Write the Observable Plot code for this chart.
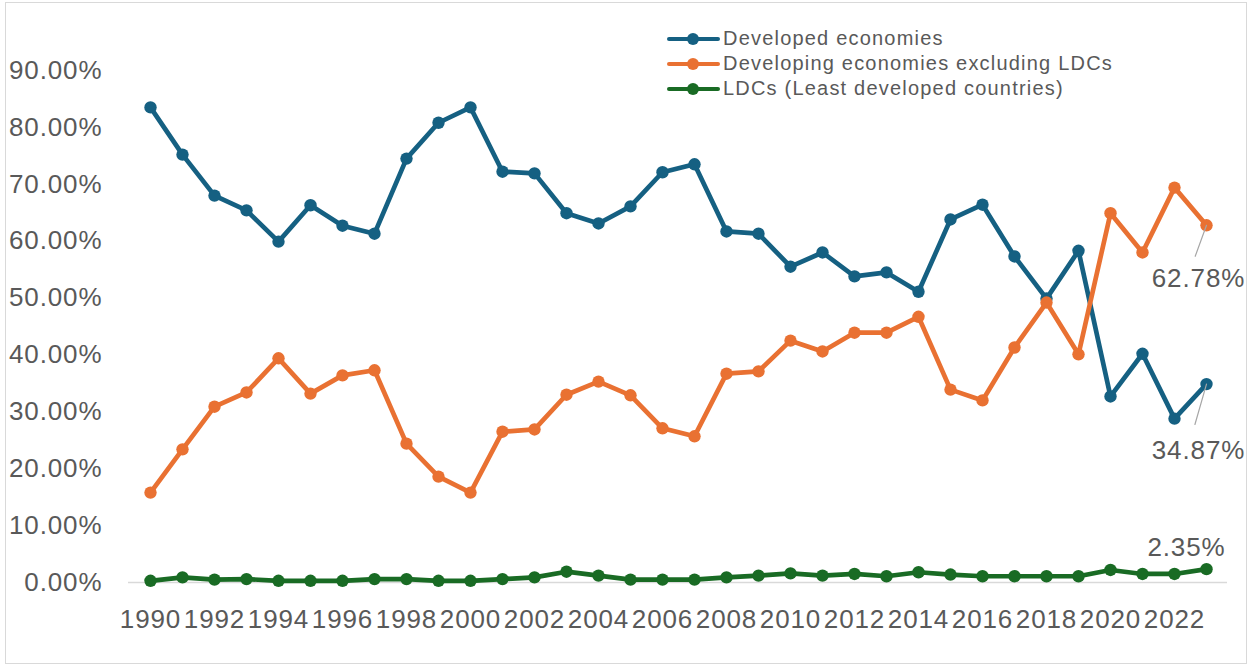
<!DOCTYPE html>
<html>
<head>
<meta charset="utf-8">
<script src="https://cdn.jsdelivr.net/npm/d3@7"></script>
<script src="https://cdn.jsdelivr.net/npm/@observablehq/plot@0.6"></script>
<style>
  html, body { margin: 0; padding: 0; background: #fff; }
  #wrap { position: relative; width: 1251px; height: 667px; overflow: hidden; }
  #frame { position: absolute; left: 5px; top: 2px; width: 1240px; height: 660px; border: 1px solid #d9d9d9; pointer-events: none; }
  #legend { position: absolute; left: 667px; top: 26px; font-family: "Liberation Sans", Arial, sans-serif; font-size: 20px; letter-spacing: 1.2px; color: #595959; }
  .item { display: flex; align-items: center; height: 25px; }
  .sw { position: relative; width: 53px; height: 25px; margin-right: 3px; }
  .sw .ln { position: absolute; left: 0; right: 0; top: 10.5px; height: 4.5px; border-radius: 2px; }
  .sw .dt { position: absolute; left: 20px; top: 6.5px; width: 12px; height: 12px; border-radius: 50%; }
  #chart svg text { letter-spacing: 0.9px; }
</style>
</head>
<body>
<div id="wrap"><div id="chart"></div><div id="legend"></div><div id="frame"></div></div>
<script>
const years = [1990,1991,1992,1993,1994,1995,1996,1997,1998,1999,2000,2001,2002,2003,2004,2005,2006,2007,2008,2009,2010,2011,2012,2013,2014,2015,2016,2017,2018,2019,2020,2021,2022,2023];
const xTickLabels = [1990,1992,1994,1996,1998,2000,2002,2004,2006,2008,2010,2012,2014,2016,2018,2020,2022];
const yTicks = [0,10,20,30,40,50,60,70,80,90];
const seriesNames = ["Developed economies","Developing economies excluding LDCs","LDCs (Least developed countries)"];
const seriesColors = ["#156082","#E97132","#196B24"];
const developed = [83.5,75.2,68.0,65.4,59.9,66.3,62.7,61.3,74.5,80.8,83.5,72.2,71.9,64.9,63.1,66.1,72.1,73.5,61.7,61.3,55.5,58.0,53.8,54.5,51.1,63.8,66.4,57.3,49.9,58.3,32.7,40.2,28.8,34.87];
const developing = [15.8,23.4,30.9,33.4,39.4,33.2,36.4,37.3,24.4,18.6,15.8,26.5,26.9,33.0,35.3,32.9,27.1,25.7,36.7,37.1,42.5,40.6,43.9,43.9,46.7,33.9,32.0,41.3,49.2,40.1,64.9,58.0,69.4,62.78];
const ldc = [0.3,0.9,0.5,0.6,0.3,0.3,0.3,0.6,0.6,0.3,0.3,0.6,0.9,1.9,1.2,0.5,0.5,0.5,0.9,1.2,1.6,1.2,1.5,1.1,1.8,1.4,1.1,1.1,1.1,1.1,2.2,1.5,1.5,2.35];

const seriesValues = [developed, developing, ldc];
const data = [];
seriesNames.forEach((s, i) => years.forEach((y, j) => data.push({series: s, year: y, value: seriesValues[i][j]})));
const last = seriesNames.map((s, i) => ({series: s, year: years[years.length - 1], value: seriesValues[i][years.length - 1]}));
const fmt = v => v.toFixed(2) + "%";

const leader = {draw(context, l) { context.moveTo(0, 0); context.lineTo(0, -l); }};

const chart = Plot.plot({
  width: 1251,
  height: 667,
  marginLeft: 128,
  marginRight: 24,
  marginTop: 13,
  marginBottom: 85,
  style: {fontFamily: "Liberation Sans, Arial, sans-serif", fontSize: "26px", color: "#595959", background: "transparent"},
  x: {type: "point", domain: years, padding: 0.5},
  y: {domain: [0, 100]},
  color: {domain: seriesNames, range: seriesColors},
  marks: [
    Plot.ruleY([0], {stroke: "#d9d9d9", strokeWidth: 1.3}),
    Plot.axisY({ticks: yTicks, tickSize: 0, tickPadding: 26, tickFormat: fmt, label: null}),
    Plot.axisX({ticks: xTickLabels, tickSize: 0, tickPadding: 27, tickFormat: d => String(d), label: null}),
    Plot.line(data, {x: "year", y: "value", z: "series", stroke: "series", strokeWidth: 4.7, strokeLinejoin: "round"}),
    Plot.dot(data, {x: "year", y: "value", fill: "series", r: 6.2}),
    Plot.vector([last[0]], {x: "year", y: "value", length: 42, rotate: 196, anchor: "start", shape: leader, stroke: "#a6a6a6", strokeWidth: 1.2}),
    Plot.vector([last[1]], {x: "year", y: "value", length: 33, rotate: 200, anchor: "start", shape: leader, stroke: "#a6a6a6", strokeWidth: 1.2}),
    Plot.text([last[0]], {x: "year", y: "value", text: d => fmt(d.value), dx: -8, dy: 67, fill: "#595959"}),
    Plot.text([last[1]], {x: "year", y: "value", text: d => fmt(d.value), dx: -8, dy: 53, fill: "#595959"}),
    Plot.text([last[2]], {x: "year", y: "value", text: d => fmt(d.value), dx: -20, dy: -21, fill: "#595959"})
  ]
});
document.getElementById("chart").appendChild(chart);

const legend = document.getElementById("legend");
seriesNames.forEach((s, i) => {
  const item = document.createElement("div");
  item.className = "item";
  item.innerHTML = `<div class="sw"><div class="ln" style="background:${seriesColors[i]}"></div><div class="dt" style="background:${seriesColors[i]}"></div></div><span>${s}</span>`;
  legend.appendChild(item);
});
</script>
</body>
</html>
